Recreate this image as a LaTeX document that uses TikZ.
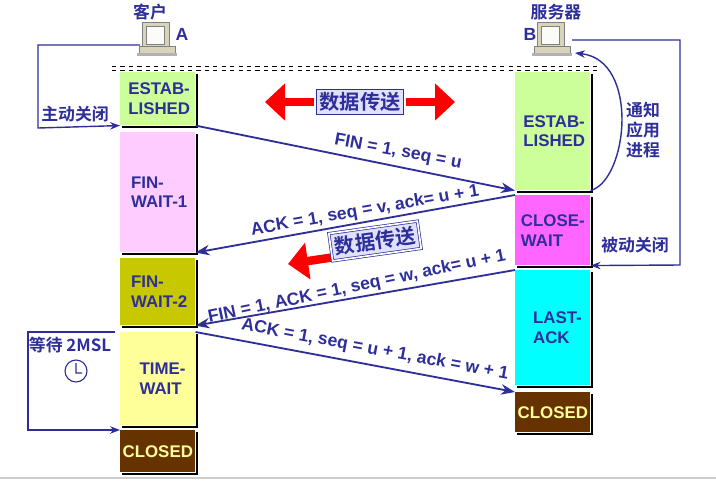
\documentclass[tikz,border=0pt]{standalone}
\usepackage{fontspec}
\setmainfont{Liberation Sans}
\newfontfamily\cjk{Noto Sans CJK SC}[BoldFont={Noto Sans CJK SC Bold}]
\usetikzlibrary{positioning, arrows.meta, calc, shapes.geometric}
\definecolor{ink}{HTML}{2E2E9A}
\definecolor{estab}{HTML}{CCFF99}
\definecolor{finone}{HTML}{FFCCFF}
\definecolor{fintwo}{HTML}{C8C800}
\definecolor{timew}{HTML}{FFFF99}
\definecolor{closed}{HTML}{663300}
\definecolor{closew}{HTML}{FF66FF}
\definecolor{lastack}{HTML}{00FFFF}
\definecolor{pcbody}{HTML}{D8D4BC}
\tikzset{
  state/.style={draw=none, fill=#1, minimum width=75*0.025cm, inner sep=0pt,
    font=\bfseries\large, text=ink, align=left, anchor=north west},
  msg/.style={ink, line width=1.3pt, -{Stealth[length=3.5mm]}},
  loop/.style={ink, line width=1pt, -{Stealth[length=2.5mm]}},
  lbl/.style={ink, font=\bfseries\fontsize{12.5}{14}\selectfont},
  zh/.style={ink, font=\cjk\bfseries\large},
  databox/.style={zh, font=\cjk\bfseries\Large, fill=blue!12, draw=ink, line width=0.5pt,
    double=white, double distance=1.2pt, inner sep=3pt},
  redarrow/.style={red, line width=6pt, -{Triangle[length=5mm,width=9mm]}},
}
\newcommand{\computer}[1]{%
  \fill[pcbody, draw=gray] ($(#1)+(-15,-18)$) rectangle ($(#1)+(12,6)$);
  \fill[white!90!pcbody, draw=gray] ($(#1)+(-11,-14)$) rectangle ($(#1)+(7,4)$);
  \fill[pcbody, draw=gray] ($(#1)+(-18,6)$) rectangle ($(#1)+(18,13)$);
  \fill[gray!60] ($(#1)+(-20,13)$) rectangle ($(#1)+(20,16)$);}
\begin{document}
\begin{tikzpicture}[x=0.025cm, y=-0.025cm]
  \useasboundingbox (0,0) rectangle (716,482);
  \draw[gray!40, line width=1pt] (0,478) -- (716,478);

  % Computers
  \computer{157,40}
  \computer{552,40}
  \node[zh] (kehu) at (150,12) {客户};
  \node[lbl] (nameA) at (182,34) {A};
  \node[zh] (fuwu) at (556,12) {服务器};
  \node[lbl] (nameB) at (530,34) {B};
  \coordinate (pcA) at (140,45);
  \coordinate (pcB) at (575,53);
  \coordinate (pcBr) at (572,40);

  \draw[dashed] (112,66) -- (600,66);
  \draw[dashed] (112,70) -- (600,70);

  % Client states
  \node[state=estab, minimum height=53*0.025cm] (aest) at (120,72) {\,ESTAB-\\\,LISHED};
  \node[state=finone, minimum height=120*0.025cm] (afw1) at (120,132) {\,FIN-\\\,WAIT-1};
  \node[state=fintwo, minimum height=67*0.025cm] (afw2) at (120,258) {\,FIN-\\\,WAIT-2};
  \node[state=timew, minimum height=93*0.025cm] (atw) at (120,332) {\ \ TIME-\\\ \ WAIT};
  \node[state=closed, minimum height=42*0.025cm, text=timew] (acl) at (120,430) {CLOSED};

  % Server states
  \node[state=estab, minimum height=118*0.025cm] (best) at (515,72) {\,ESTAB-\\\,LISHED};
  \node[state=closew, minimum height=70*0.025cm] (bcw) at (515,195) {CLOSE-\\WAIT};
  \node[state=lastack, minimum height=115*0.025cm] (bla) at (515,270) {\ \ LAST-\\\ \ ACK};
  \node[state=closed, minimum height=40*0.025cm, text=timew] (bcl) at (515,392) {CLOSED};

  % Shadows
  \foreach \n in {aest,afw1,afw2,atw,acl,best,bcw,bla,bcl}
    \draw[black, line width=1.5pt] ($(\n.north east)+(1,2)$) -- ($(\n.south east)+(1,1)$) -- ($(\n.south west)+(2,1)$);

  % Segments
  \draw[msg] (aest.south east) -- (best.south west);
  \draw[msg] (bcw.north west) -- (afw1.south east);
  \draw[msg] (bla.north west) -- (afw2.south east);
  \draw[msg] (atw.north east) -- (bcl.north west);
  \node[lbl, rotate=-10.6] (m1) at (398,152) {FIN = 1, seq = u};
  \node[lbl, rotate=9.8] (m2) at (365,211) {ACK = 1, seq = v, ack= u + 1};
  \node[lbl, rotate=11.8] (m3) at (357,287) {FIN = 1, ACK = 1, seq = w, ack= u + 1};
  \node[lbl, rotate=-10.6] (m4) at (375,350) {ACK = 1, seq = u + 1, ack = w + 1};

  % Data transfer
  \coordinate (d1l) at (265,102);
  \coordinate (d1r) at (455,102);
  \draw[redarrow] (360,102) -- (d1l);
  \draw[redarrow] (360,102) -- (d1r);
  \node[databox] (data1) at (360,102) {数据传送};
  \coordinate (d2tip) at (288,264);
  \draw[redarrow] (335,257) -- (d2tip);
  \node[databox, rotate=8] (data2) at (375,241) {数据传送};

  % Client loops
  \draw[loop] (pcA) -- (38,45) -- (38,128) -- (aest.south west);
  \node[zh] (act) at (75,114) {主动关闭};
  \draw[loop] ($(atw.north west)+(-5,0)$) -- (28,332) -- (28,430) -- (acl.north west);
  \node[zh] (wait) at (70,345) {等待 2MSL};
  \draw[ink, thick] (76,371) circle (11) (76,363) -- (76,373) -- (82,373);

  % Server loops
  \draw[loop] (best.south east) .. controls (628,180) and (640,60) .. (pcB);
  \node[zh, align=left] (notify) at (643,130) {通知\\应用\\进程};
  \draw[loop] (pcBr) -- (680,40) -- (680,265) -- (bcw.south east);
  \node[zh] (pass) at (635,245) {被动关闭};
\end{tikzpicture}
\end{document}
